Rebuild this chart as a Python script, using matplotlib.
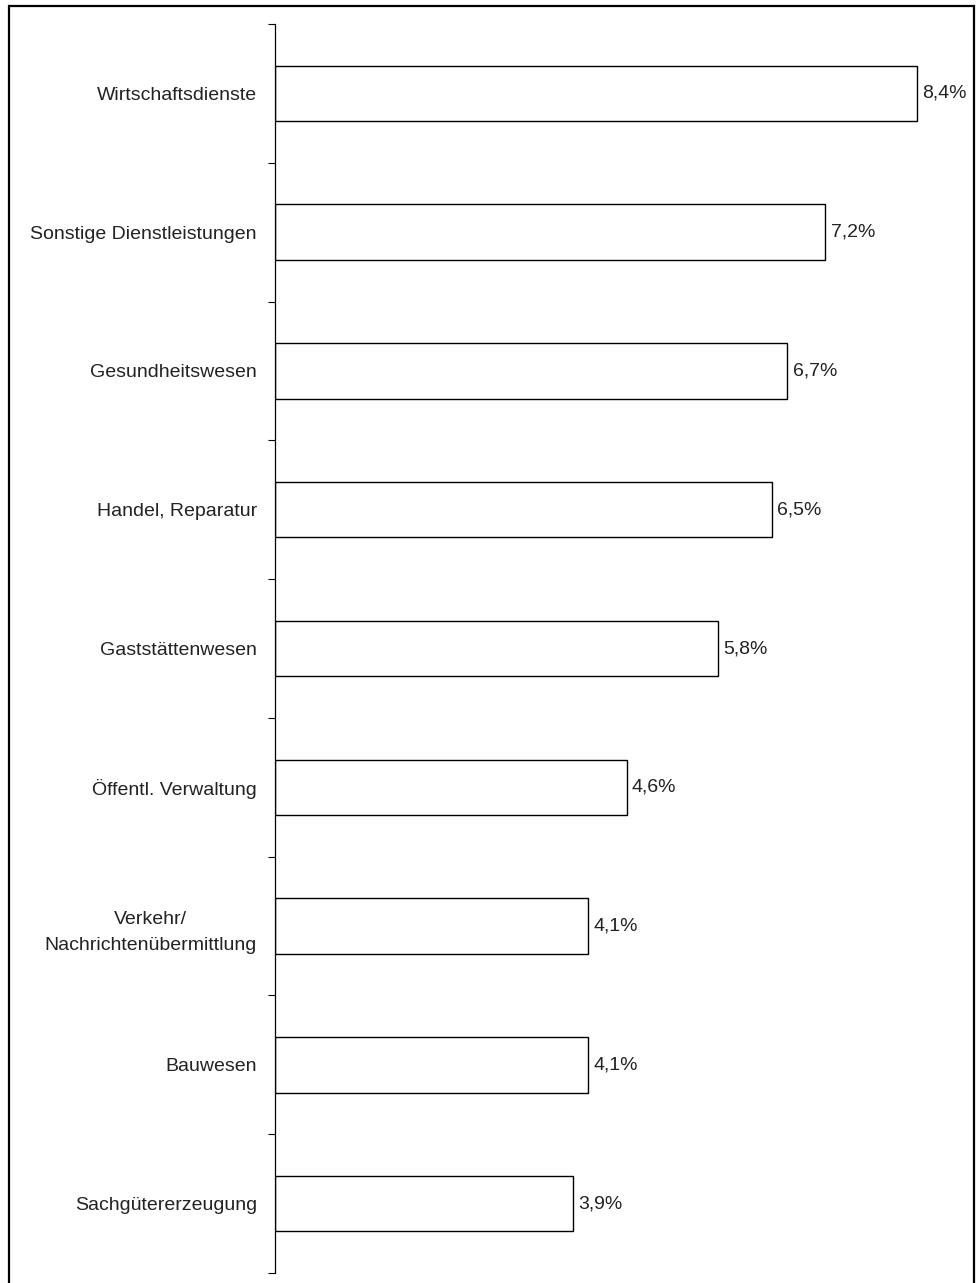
import matplotlib.pyplot as plt
from matplotlib.patches import Rectangle
import numpy as np

plt.rcParams['font.family'] = ['Liberation Sans', 'DejaVu Sans']

categories = ["Wirtschaftsdienste", "Sonstige Dienstleistungen", "Gesundheitswesen",
              "Handel, Reparatur", "Gaststättenwesen", "Öffentl. Verwaltung",
              "Verkehr/\nNachrichtenübermittlung", "Bauwesen", "Sachgütererzeugung"]
values = [8.4, 7.2, 6.7, 6.5, 5.8, 4.6, 4.1, 4.1, 3.9]
value_labels = ["8,4%", "7,2%", "6,7%", "6,5%", "5,8%", "4,6%", "4,1%", "4,1%", "3,9%"]

fig = plt.figure(figsize=(9.79, 12.83), dpi=100)
ax = fig.add_axes([275/979, 10/1283, (963-275)/979, (1273-24)/1283])

# frame around the whole picture
fig.patches.append(Rectangle((9/979, -0.02), (974-9)/979, 1.02 - 6/1283,
                             transform=fig.transFigure, fill=False,
                             edgecolor='black', linewidth=1.6))

y = np.arange(len(categories))
ax.barh(y, values, height=0.40, color='white', edgecolor='black', linewidth=1.0)

for yi, v, lab in zip(y, values, value_labels):
    ax.text(v + 0.07, yi, lab, va='center', ha='left', fontsize=14, color='#222222')

ax.set_xlim(0, 9)
ax.set_ylim(len(categories) - 0.5, -0.5)

ax.set_yticks(y)
ax.set_yticklabels(categories, fontsize=14, color='#222222', linespacing=1.7,
                   multialignment='center')
ax.set_yticks(np.arange(-0.5, len(categories)), minor=True)
ax.tick_params(axis='y', which='major', length=0, pad=13)
ax.tick_params(axis='y', which='minor', length=5, width=0.8, direction='out')
ax.set_xticks([])

for s in ['top', 'right', 'bottom']:
    ax.spines[s].set_visible(False)
ax.spines['left'].set_linewidth(0.9)

fig.savefig('out.png', dpi=100)
